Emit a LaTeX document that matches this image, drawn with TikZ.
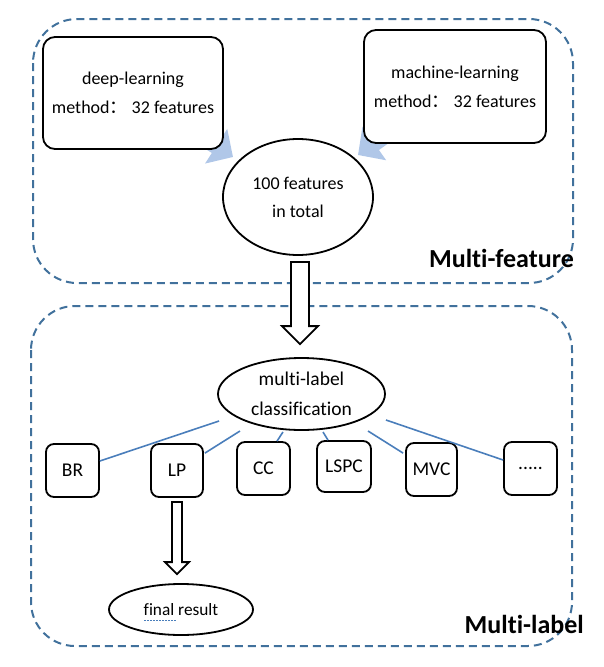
\documentclass[tikz,border=0pt]{standalone}
\usepackage{fontspec}
\setmainfont{Carlito}[Ligatures=CommonOff]
\newfontfamily\cjk{Noto Sans CJK SC}
\usetikzlibrary{shapes.geometric,arrows.meta,calc}
\pgfdeclarelayer{background}
\pgfsetlayers{background,main}
\definecolor{dashblue}{RGB}{65,113,156}
\definecolor{lineblue}{RGB}{74,126,187}
\definecolor{lightblue}{RGB}{176,199,232}
\begin{document}
\begin{tikzpicture}[x=1pt,y=-1pt,
  container/.style={draw=dashblue, line width=2pt, dash pattern=on 8pt off 5pt, rounded corners=44pt},
  mbox/.style={draw, line width=1.8pt, rounded corners=12pt, fill=white, align=center, inner sep=0pt, font=\fontsize{18}{29}\selectfont},
  sbox/.style={draw, line width=1.8pt, rounded corners=8pt, fill=white, inner sep=0pt, font=\fontsize{19.5}{24}\selectfont},
  ell/.style={draw, ellipse, line width=1.8pt, fill=white, inner sep=0pt, align=center},
  cline/.style={draw=lineblue, line width=1.6pt},
  barrow/.style={draw=lightblue, line width=16pt, -{Triangle[length=20pt,width=40pt]}},
  hollow/.style={draw, line width=1.8pt, fill=white, line join=miter},
  tag/.style={font=\fontsize{26}{30}\selectfont\bfseries, inner sep=0pt}
]
\useasboundingbox (0,0) rectangle (603,667);

% containers
\draw[container] (33,19) rectangle (573,283);
\draw[container] (31,306) rectangle (572,646);

% top nodes
\node[mbox, minimum width=180pt, minimum height=112pt] (deep) at (133,93) {deep-learning\\method{\cjk ：} 32 features};
\node[mbox, minimum width=182pt, minimum height=113pt] (ml) at (455,86.5) {machine-learning\\method{\cjk ：} 32 features};
\node[ell, minimum width=150pt, minimum height=116pt, font=\fontsize{18}{28}\selectfont] (total) at (298,197) {100 features\\in total};

% blue block arrows
\coordinate (tipL) at (233,157);
\coordinate (tipR) at (358,155);
\begin{pgfonlayer}{background}
\draw[barrow] (deep.center) -- (tipL);
\draw[barrow] (ml.center) -- (tipR);
\end{pgfonlayer}

% middle ellipse
\node[ell, minimum width=167pt, minimum height=72pt, font=\fontsize{19.5}{30}\selectfont] (mlc) at (301.5,394) {multi-label\\classification};

% method boxes
\node[sbox, minimum width=53pt, minimum height=53pt] (BR) at (72.5,470.5) {BR};
\node[sbox, minimum width=52pt, minimum height=53pt] (LP) at (177,470.5) {LP};
\node[sbox, minimum width=53pt, minimum height=53pt] (CC) at (263.5,468.5) {CC};
\node[sbox, minimum width=54pt, minimum height=51pt] (LSPC) at (344,466.5) {LSPC};
\node[sbox, minimum width=51pt, minimum height=53pt] (MVC) at (431.5,469.5) {MVC};
\node[sbox, minimum width=53pt, minimum height=53pt] (dots) at (530.5,468.5) {.....};

% final result
\node[ell, minimum width=144pt, minimum height=51pt, font=\fontsize{17.3}{20}\selectfont] (final) at (181,609.5) {final result};
\draw[lineblue, line width=0.8pt, dash pattern=on 1.5pt off 1.5pt] ($(final.center)+(-37,10.5)$) -- ($(final.center)+(-5,10.5)$);

% connectors
\draw[cline] ([yshift=9.5pt]BR.east) -- ($(mlc.center)+(-82.5,27)$);
\draw[cline] ([xshift=1pt,yshift=-10pt]LP.north east) -- ($(mlc.center)+(-61.5,37)$);
\draw[cline] ([xshift=13.5pt]CC.north) -- ($(mlc.center)+(-18.5,38)$);
\draw[cline] ([xshift=-16pt]LSPC.north) -- ($(mlc.center)+(21.5,38)$);
\draw[cline] ([xshift=-2pt,yshift=-11pt]MVC.north west) -- ($(mlc.center)+(66.5,37)$);
\draw[cline] ([yshift=8.5pt]dots.west) -- ($(mlc.center)+(84.5,26)$);

% hollow arrows
\coordinate (a1top) at ($(total.south)+(2,6)$);
\coordinate (a1tip) at ($(mlc.north)+(-1.5,-13)$);
\draw[hollow] ([xshift=-9pt]a1top) -- ([xshift=-9pt,yshift=18pt]a1tip) -- ([xshift=-18pt,yshift=18pt]a1tip) -- (a1tip) -- ([xshift=18pt,yshift=18pt]a1tip) -- ([xshift=9pt,yshift=18pt]a1tip) -- ([xshift=9pt]a1top) -- cycle;

\coordinate (a2top) at ($(LP.south)+(0,4)$);
\coordinate (a2tip) at ($(a2top |- final.north)+(0,-9)$);
\draw[hollow] ([xshift=-5pt]a2top) -- ([xshift=-5pt,yshift=12pt]a2tip) -- ([xshift=-12pt,yshift=12pt]a2tip) -- (a2tip) -- ([xshift=12pt,yshift=12pt]a2tip) -- ([xshift=5pt,yshift=12pt]a2tip) -- ([xshift=5pt]a2top) -- cycle;

% tags
\node[tag, anchor=base east] (mf) at (574,267) {Multi-feature};
\node[tag, anchor=base east] (mlab) at (584,633) {Multi-label};
\end{tikzpicture}
\end{document}
